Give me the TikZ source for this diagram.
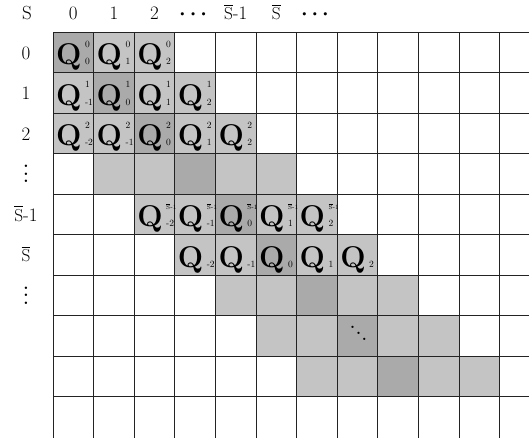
\documentclass[tikz,border=0pt]{standalone}
\usepackage{amsmath}
\usetikzlibrary{calc}
\definecolor{lg}{RGB}{196,196,196}
\definecolor{dg}{RGB}{170,170,170}
\definecolor{gl}{RGB}{35,35,35}
\newcommand{\Sb}{\ensuremath{\overline{\mathrm{S}}}}
\def\W{40.6}
\def\H{40.5}
\def\X{53}
\def\Y{32.3}
\newcommand{\qc}[4]{%
  \pgfmathsetmacro\qx{\X+(#2+0.5)*\W}%
  \pgfmathsetmacro\qy{\Y+(#1+0.5)*\H}%
  \node[qq, anchor=base] (q-#1-#2) at (\qx-4.5,\qy+12) {Q};
  \node[sc, anchor=base west] (u-#1-#2) at (\qx+11.5,\qy-5.5) {#3};
  \node[sc, anchor=base west] (d-#1-#2) at (\qx+11.5,\qy+12) {#4};
}
\begin{document}
\begin{tikzpicture}[x=1pt,y=-1pt,
  lbl/.style={font=\fontsize{19}{19}\selectfont, inner sep=0pt, anchor=base},
  qq/.style={font=\fontsize{30}{30}\selectfont\bfseries, inner sep=0pt},
  sc/.style={font=\fontsize{9.5}{9.5}\selectfont, inner sep=0pt},
  vd/.style={font=\fontsize{17}{7.5}\selectfont\bfseries, inner sep=0pt, align=center},
  gridline/.style={draw=gl, line width=0.9pt}]
\useasboundingbox (0,0) rectangle (529,438);
% shaded band
\foreach \r in {0,...,8} {
  \foreach \k/\col in {-2/lg,-1/lg,0/dg,1/lg,2/lg} {
    \pgfmathtruncatemacro\c{\r+\k}
    \ifnum\c>-1
      \fill[\col] ({\X+\c*\W},{\Y+\r*\H}) rectangle ({\X+(\c+1)*\W},{\Y+(\r+1)*\H});
    \fi
  }
}
% grid
\foreach \k in {0,...,11} \draw[gridline] ({\X+\k*\W},\Y) -- ({\X+\k*\W},438);
\foreach \j in {0,...,9} \draw[gridline] (\X,{\Y+\j*\H}) -- (529,{\Y+\j*\H});
% header
\node[lbl] (hS) at (27,20) {S};
\node[lbl] (h0) at ({\X+0.5*\W},20) {0};
\node[lbl] (h1) at ({\X+1.5*\W},20) {1};
\node[lbl] (h2) at ({\X+2.5*\W},20) {2};
\node[lbl, font=\fontsize{20}{20}\selectfont\boldmath] (h3) at ({\X+3.5*\W},20) {$\cdots$};
\node[lbl] (h4) at ({\X+4.5*\W},20) {\Sb-1};
\node[lbl] (h5) at ({\X+5.5*\W},20) {\Sb};
\node[lbl, font=\fontsize{20}{20}\selectfont\boldmath] (h6) at ({\X+6.5*\W},20) {$\cdots$};
% row labels
\node[lbl] (r0) at (26,{\Y+0.5*\H+6.5}) {0};
\node[lbl] (r1) at (26,{\Y+1.5*\H+6.5}) {1};
\node[lbl] (r2) at (26,{\Y+2.5*\H+6.5}) {2};
\node[vd] (r3) at (26,{\Y+3.5*\H}) {.\\.\\.};
\node[lbl] (r4) at (26,{\Y+4.5*\H+6.5}) {\Sb-1};
\node[lbl] (r5) at (26,{\Y+5.5*\H+6.5}) {\Sb};
\node[vd] (r6) at (26,{\Y+6.5*\H}) {.\\.\\.};
% Q cells
\qc{0}{0}{0}{0}
\qc{0}{1}{0}{1}
\qc{0}{2}{0}{2}
\qc{1}{0}{1}{-1}
\qc{1}{1}{1}{0}
\qc{1}{2}{1}{1}
\qc{1}{3}{1}{2}
\qc{2}{0}{2}{-2}
\qc{2}{1}{2}{-1}
\qc{2}{2}{2}{0}
\qc{2}{3}{2}{1}
\qc{2}{4}{2}{2}
\qc{4}{2}{\fontsize{6.5}{6.5}\selectfont\Sb-1}{-2}
\qc{4}{3}{\fontsize{6.5}{6.5}\selectfont\Sb-1}{-1}
\qc{4}{4}{\fontsize{6.5}{6.5}\selectfont\Sb-1}{0}
\qc{4}{5}{\fontsize{6.5}{6.5}\selectfont\Sb-1}{1}
\qc{4}{6}{\fontsize{6.5}{6.5}\selectfont\Sb-1}{2}
\qc{5}{3}{}{-2}
\qc{5}{4}{}{-1}
\qc{5}{5}{}{0}
\qc{5}{6}{}{1}
\qc{5}{7}{}{2}
% diagonal dots
\node[font=\fontsize{16}{16}\selectfont\bfseries, inner sep=0pt] (dd) at ({\X+7.5*\W+1},{\Y+7.5*\H-3}) {\raisebox{6pt}{.}\kern0.8pt.\kern0.8pt\raisebox{-6pt}{.}};
\end{tikzpicture}
\end{document}
